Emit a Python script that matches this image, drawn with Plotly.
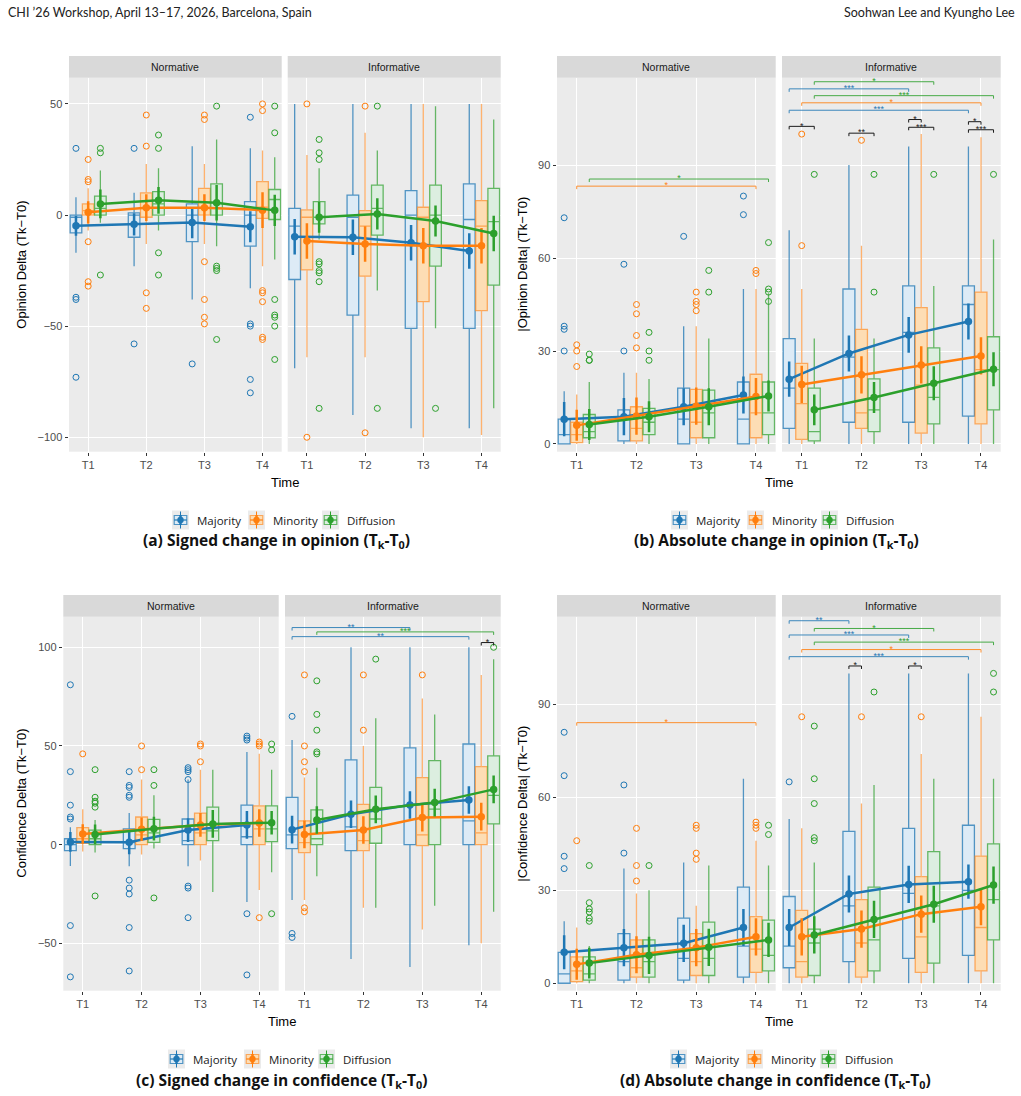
import plotly.graph_objects as go

W, H = 1021, 1096
TIMES = ["T1", "T2", "T3", "T4"]
GROUPS = ["Majority", "Minority", "Diffusion"]
FACETS = ["Normative", "Informative"]

# ---------------- (a) Signed change in opinion ----------------
A_N_Q1 = [[-8, -10, -12, -14], [0, -1, 0, -1.5], [0, 0, 0, -2]]
A_N_MED = [[-1, 0, 0, 0], [2, 3, 3, 3.5], [3, 5, 3, 7]]
A_N_Q3 = [[0, 1, 5, 6], [5, 10, 12, 15], [8.5, 10.5, 14, 11.5]]
A_N_LO = [[-17, -23, -38, -33], [-7, -13, -13, -23], [-3.5, -7, -14, -20]]
A_N_HI = [[8, 10, 31, 30], [12, 23, 23, 29], [20, 21, 34, 26]]
A_N_MEAN = [[-4.8, -4.2, -3.4, -5.3], [1.2, 3.3, 3.3, 2.2], [5, 6.6, 5.5, 2.1]]
A_N_CI = [[4.5, 5, 7, 7], [5, 6, 6, 8], [6.5, 6, 8, 7]]
A_N_OUT = [
    [[30, -37, -38, -73], [30, -58], [-67], [44, -49, -50, -74, -80]],
    [[25, 16, 15, -12, -30, -32], [45, 31, -35, -42], [45, 43, -21, -38, -46, -49],
     [50, 47, -34, -35, -39, -55, -56]],
    [[30, 28, -27], [36, 30, -17, -27], [49, -23, -24, -25, -56], [49, 37, -38, -45, -46, -50, -65]],
]
A_I_Q1 = [[-29, -45, -51, -51], [-24.7, -27.5, -39, -43], [-4, -9, -23, -31.5]]
A_I_MED = [[-5, -1, 0, -2], [-1, -5, -1, -5], [-1, 3, 0, -3]]
A_I_Q3 = [[3, 9, 11, 14], [2.3, 2, 3.5, 6.5], [6, 13.5, 13.5, 12]]
A_I_LO = [[-69, -90, -96, -96], [-64, -64, -100, -99], [-11, -34, -51, -87]]
A_I_HI = [[50, 50, 50, 50], [27, 37, 50, 50], [21, 29, 49, 43]]
A_I_MEAN = [[-9.8, -10, -12.5, -16.2], [-11.7, -13, -13.8, -13.8], [-1, 0.5, -2.7, -8.3]]
A_I_CI = [[8, 8, 8, 8], [8, 8, 8, 8], [7, 7, 7, 8]]
A_I_OUT = [
    [[], [], [], []],
    [[50, -100], [49, -98], [], []],
    [[34, 28, 25, -21, -22, -25, -26, -30, -87], [49, -87], [-87], []],
]
A_N_BR = []
A_I_BR = []

# ---------------- (b) Absolute change in opinion ----------------
B_N_Q1 = [[0, 1, 0, 0], [0.4, 1, 2, 2], [2, 3, 2, 3]]
B_N_MED = [[3, 8, 8, 8], [3, 5, 7, 10], [4, 7, 10, 10]]
B_N_Q3 = [[8, 11, 18, 20], [7, 12, 17.6, 22.5], [9.5, 11.5, 17.4, 20]]
B_N_LO = [[0, 0, 0, 0], [0, 0, 0, 0], [0, 0, 0, 0]]
B_N_HI = [[17, 23, 38, 50], [16, 23, 38, 50], [20, 21, 34, 48.6]]
B_N_MEAN = [[8, 8.8, 12, 15.8], [6, 9, 12.2, 15.3], [6.3, 8.8, 12, 15.5]]
B_N_CI = [[5.5, 6, 6, 6], [5, 6, 6, 6], [5, 5, 6, 5]]
B_N_OUT = [
    [[73, 38, 37, 30], [58, 30], [67], [80, 74]],
    [[32, 30, 25], [45, 42, 35, 31], [49, 46, 45, 43], [56, 55]],
    [[29, 27, 27], [36, 30, 27], [56, 49], [65, 50, 49, 46]],
]
B_I_Q1 = [[5, 7, 7, 9], [1.5, 5, 3.5, 6.5], [1, 4, 6.5, 11]]
B_I_MED = [[18, 28, 36, 45], [13, 10, 19, 24], [4, 11, 15, 24]]
B_I_Q3 = [[34, 50, 51, 51], [26, 37, 44, 49], [18, 21, 31, 34.6]]
B_I_LO = [[0, 0, 0, 0], [0, 0, 0, 0], [0, 0, 0, 0]]
B_I_HI = [[69, 90, 96, 96], [50, 64, 100, 99], [34, 34, 51, 66]]
B_I_MEAN = [[20.9, 29.2, 35.2, 39.5], [19.2, 22.3, 25.5, 28.4], [11, 15, 19.6, 24.1]]
B_I_CI = [[5.7, 5.8, 5.8, 5.8], [6, 6, 6, 6], [5, 5, 5.5, 5.5]]
B_I_OUT = [
    [[], [], [], []],
    [[100, 64], [98], [], []],
    [[87], [87, 49], [87], [87]],
]
B_N_BR = [
    ("Minority", 1, "Minority", 4, 83.2, "*", "Minority"),
    ("Diffusion", 1, "Diffusion", 4, 85.5, "*", "Diffusion"),
]
B_I_BR = [
    ("Diffusion", 1, "Diffusion", 3, 116.9, "*", "Diffusion"),
    ("Majority", 1, "Majority", 3, 114.6, "***", "Majority"),
    ("Diffusion", 1, "Diffusion", 4, 112.4, "***", "Diffusion"),
    ("Minority", 1, "Minority", 4, 110.1, "*", "Minority"),
    ("Majority", 1, "Majority", 4, 107.7, "***", "Majority"),
    ("Majority", 1, "Diffusion", 1, 102.5, "*", "black"),
    ("Majority", 2, "Diffusion", 2, 100.3, "**", "black"),
    ("Majority", 3, "Minority", 3, 104.7, "*", "black"),
    ("Majority", 3, "Diffusion", 3, 102.2, "***", "black"),
    ("Majority", 4, "Minority", 4, 104.0, "*", "black"),
    ("Majority", 4, "Diffusion", 4, 101.4, "***", "black"),
]

# ---------------- (c) Signed change in confidence ----------------
C_N_Q1 = [[-3, -2, 0, 0], [0.7, 0, 0, 0], [0, 1.2, 2, 1.5]]
C_N_MED = [[0, 1, 2, 4], [3, 5, 6, 8], [3, 6, 7, 8]]
C_N_Q3 = [[3, 8, 13, 20], [8.6, 14, 16, 19.6], [7.4, 12.8, 19, 19.6]]
C_N_LO = [[-10.8, -11, -11, -29], [-3.5, -5, -8, -23], [-4, -2, -24, -14]]
C_N_HI = [[8.8, 16, 33, 47], [18, 33, 38, 46], [12.5, 25, 38, 38]]
C_N_MEAN = [[1.4, 1.2, 7.4, 10], [5.4, 7.8, 10, 11], [5.2, 8.1, 10.5, 11.1]]
C_N_CI = [[5, 6, 6, 7], [5, 6, 6, 7], [5, 6, 7, 6]]
C_N_OUT = [
    [[81, 37, 20, 14, 13, -41, -67], [37, 30, 29, 25, 24, -18, -22, -25, -42, -64],
     [39, 38, 37, 33, -21, -22, -37], [55, 54, 53, -35, -66]],
    [[46], [50, 38], [51, 50, 42], [52, 51, 50, -37]],
    [[38, 24, 22, 21, 19, -26], [38, 30, -27], [], [51, 48, -35]],
]
C_I_Q1 = [[-2, -3, 0, 0], [-4, -3, -0.5, 0], [0, 0.7, 0, 10.5]]
C_I_MED = [[5, 9, 20, 12], [1, 2, 5, 6], [3, 13, 18, 25]]
C_I_Q3 = [[24, 43, 49, 51], [12, 20.4, 34, 39.5], [17.6, 29, 42.6, 45]]
C_I_LO = [[-28, -58, -62, -51], [-28, -32, -43, -50], [-16, -32, -31, -34]]
C_I_HI = [[53, 100, 100, 100], [34, 50, 74, 86], [39, 64, 66, 94]]
C_I_MEAN = [[7.6, 15.4, 20.1, 22.6], [5.2, 7.4, 13.7, 14.2], [12.5, 17.9, 21.3, 28]]
C_I_CI = [[7, 7, 7, 7], [7, 7, 7, 7], [7, 7, 7, 7]]
C_I_OUT = [
    [[65, -45, -47], [], [], []],
    [[86, 50, 42, 37, -32, -34], [86, 58], [86], []],
    [[83, 66, 58, 47, 46], [94], [], [100]],
]
C_N_BR = []
C_I_BR = [
    ("Majority", 1, "Majority", 3, 110.0, "**", "Majority"),
    ("Diffusion", 1, "Diffusion", 4, 107.8, "***", "Diffusion"),
    ("Majority", 1, "Majority", 4, 105.4, "**", "Majority"),
    ("Minority", 4, "Diffusion", 4, 102.4, "*", "black"),
]

# ---------------- (d) Absolute change in confidence ----------------
D_N_Q1 = [[0, 1, 1, 2], [0.5, 2, 2.5, 3.5], [1, 2, 2.5, 4]]
D_N_MED = [[3, 7, 8, 12], [4, 5, 7, 11], [3, 7, 8, 9]]
D_N_Q3 = [[10, 16, 21, 31], [8.5, 14, 16, 21.5], [8.5, 14, 19.7, 20.4]]
D_N_LO = [[0, 0, 0, 0], [0, 0, 0, 0], [0, 0, 0, 0]]
D_N_HI = [[20, 37, 39, 66], [18, 29, 25, 46], [12, 30, 38, 38]]
D_N_MEAN = [[10, 11.5, 12.9, 18], [6.1, 9.2, 11.5, 15], [6.5, 9, 11.6, 14]]
D_N_CI = [[5.5, 6, 6, 6], [5, 6, 6, 6], [5, 6, 6, 5.5]]
D_N_OUT = [
    [[81, 67, 41, 37], [64, 42], [], []],
    [[46], [50, 38, 33], [51, 50, 42, 40], [52, 51, 50]],
    [[38, 26, 24, 23, 21, 20], [38], [], [51, 48]],
]
D_I_Q1 = [[5, 7, 8, 9], [2, 2, 3.5, 4], [2.5, 4, 6.5, 14]]
D_I_MED = [[12, 25, 29, 30], [7, 13, 15, 18], [13, 14, 25, 27]]
D_I_Q3 = [[28, 49, 50, 51], [23.5, 27, 34.4, 41], [17.5, 31, 42.5, 45]]
D_I_LO = [[0, 0, 0, 0], [0, 0, 0, 0], [0, 0, 0, 0]]
D_I_HI = [[53, 100, 100, 100], [50, 58, 74, 86], [39, 64, 66, 66]]
D_I_MEAN = [[18, 28.8, 31.9, 32.8], [15, 17.5, 22.3, 24.7], [15.6, 20.6, 25.5, 31.7]]
D_I_CI = [[6, 6, 6, 5.5], [6, 6, 6, 6], [6, 6, 6, 6]]
D_I_OUT = [
    [[65], [], [], []],
    [[86], [86], [86], []],
    [[83, 66, 58, 47, 46], [94], [], [100, 94]],
]
D_N_BR = [("Minority", 1, "Minority", 4, 84.1, "*", "Minority")]
D_I_BR = [
    ("Majority", 1, "Majority", 2, 117.0, "**", "Majority"),
    ("Diffusion", 1, "Diffusion", 3, 114.5, "*", "Diffusion"),
    ("Majority", 1, "Majority", 3, 112.4, "***", "Majority"),
    ("Diffusion", 1, "Diffusion", 4, 110.1, "***", "Diffusion"),
    ("Minority", 1, "Minority", 4, 107.7, "*", "Minority"),
    ("Majority", 1, "Majority", 4, 105.4, "***", "Majority"),
    ("Majority", 2, "Minority", 2, 102.4, "*", "black"),
    ("Majority", 3, "Minority", 3, 102.4, "*", "black"),
]

HEADER_LEFT = "CHI ’26 Workshop, April 13–17, 2026, Barcelona, Spain"
HEADER_RIGHT = "Soohwan Lee and Kyungho Lee"

# ---------------- styling ----------------
COL = {"Majority": "#1F77B4", "Minority": "#FF7F0E", "Diffusion": "#2CA02C", "black": "#1A1A1A"}
FILL = {"Majority": "#DDEBF6", "Minority": "#FDDDB4", "Diffusion": "#DCEEE0"}
LINE = {"Majority": "rgba(31,119,180,0.75)", "Minority": "rgba(255,127,14,0.6)",
        "Diffusion": "rgba(44,160,44,0.7)"}
OFFS = [-0.21, 0.0, 0.21]
BOXW = 0.2
FONT = "Liberation Sans, Arial, sans-serif"


def fx(px):
    return px / W


def fy(py):
    return 1 - py / H


PANELS = [
    dict(data=[
        (A_N_Q1, A_N_MED, A_N_Q3, A_N_LO, A_N_HI, A_N_MEAN, A_N_CI, A_N_OUT, A_N_BR),
        (A_I_Q1, A_I_MED, A_I_Q3, A_I_LO, A_I_HI, A_I_MEAN, A_I_CI, A_I_OUT, A_I_BR)],
         xd=[(69, 281.7), (287.7, 500.7)], yd=(77.7, 451.7), strip=(56, 77.7),
         yr=[-106.5, 61.8], tv=[-100, -50, 0, 50],
         ytitle="Opinion Delta (Tk−T0)", ytx=22,
         cap="(a) Signed change in opinion (T<sub>k</sub>-T<sub>0</sub>)", capx=276.5, capy=540,
         legx=172, legy=520, timey=482),
    dict(data=[
        (B_N_Q1, B_N_MED, B_N_Q3, B_N_LO, B_N_HI, B_N_MEAN, B_N_CI, B_N_OUT, B_N_BR),
        (B_I_Q1, B_I_MED, B_I_Q3, B_I_LO, B_I_HI, B_I_MEAN, B_I_CI, B_I_OUT, B_I_BR)],
         xd=[(557, 775.7), (782, 1000.7)], yd=(77.7, 451.7), strip=(56, 77.7),
         yr=[-2.5, 118.2], tv=[0, 30, 60, 90],
         ytitle="|Opinion Delta| (Tk−T0)", ytx=523,
         cap="(b) Absolute change in opinion (T<sub>k</sub>-T<sub>0</sub>)", capx=776, capy=540,
         legx=671, legy=520, timey=482),
    dict(data=[
        (C_N_Q1, C_N_MED, C_N_Q3, C_N_LO, C_N_HI, C_N_MEAN, C_N_CI, C_N_OUT, C_N_BR),
        (C_I_Q1, C_I_MED, C_I_Q3, C_I_LO, C_I_HI, C_I_MEAN, C_I_CI, C_I_OUT, C_I_BR)],
         xd=[(63.3, 278.7), (285, 500.7)], yd=(616.7, 990.7), strip=(595, 616.7),
         yr=[-74, 115.5], tv=[-50, 0, 50, 100],
         ytitle="Confidence Delta (Tk−T0)", ytx=22,
         cap="(c) Signed change in confidence (T<sub>k</sub>-T<sub>0</sub>)", capx=281.5, capy=1080,
         legx=168, legy=1059, timey=1021),
    dict(data=[
        (D_N_Q1, D_N_MED, D_N_Q3, D_N_LO, D_N_HI, D_N_MEAN, D_N_CI, D_N_OUT, D_N_BR),
        (D_I_Q1, D_I_MED, D_I_Q3, D_I_LO, D_I_HI, D_I_MEAN, D_I_CI, D_I_OUT, D_I_BR)],
         xd=[(557, 775.7), (782, 1000.7)], yd=(616.7, 990.7), strip=(595, 616.7),
         yr=[-2.4, 118.3], tv=[0, 30, 60, 90],
         ytitle="|Confidence Delta| (Tk−T0)", ytx=523,
         cap="(d) Absolute change in confidence (T<sub>k</sub>-T<sub>0</sub>)", capx=775.5, capy=1080,
         legx=670, legy=1059, timey=1021),
]

fig = go.Figure()
layout = dict(width=W, height=H, margin=dict(l=0, r=0, t=0, b=0), autosize=False,
              paper_bgcolor="white", plot_bgcolor="#EBEBEB", showlegend=False,
              font=dict(family=FONT, color="#1A1A1A"))
shapes, annots = [], []
XPOS = [1, 2, 3, 4]

for p, P in enumerate(PANELS):
    px_per_unit = (P["yd"][1] - P["yd"][0]) / (P["yr"][1] - P["yr"][0])
    tip = 3.0 / px_per_unit
    for f in range(2):
        n = p * 2 + f + 1
        xa, ya = f"x{n}", f"y{n}"
        q1, med, q3, lo, hi, mean, ci, out, br = P["data"][f]
        x0, x1 = P["xd"][f]
        layout[f"xaxis{n}"] = dict(
            domain=[fx(x0), fx(x1)], anchor=ya, range=[0.67, 4.33],
            tickmode="array", tickvals=XPOS, ticktext=TIMES,
            showgrid=True, gridcolor="white", gridwidth=1.2, zeroline=False,
            ticks="outside", ticklen=3.5, tickcolor="#333333", tickwidth=1,
            tickfont=dict(size=11, color="#4D4D4D", family=FONT), showline=False,
            fixedrange=True)
        yax = dict(
            domain=[fy(P["yd"][1]), fy(P["yd"][0])], anchor=xa, range=P["yr"],
            tickmode="array", tickvals=P["tv"],
            showgrid=True, gridcolor="white", gridwidth=1.2, zeroline=False,
            showline=False, fixedrange=True,
            tickfont=dict(size=11, color="#4D4D4D", family=FONT))
        if f == 0:
            yax.update(ticks="outside", ticklen=3.5, tickcolor="#333333", tickwidth=1)
        else:
            yax.update(showticklabels=False, ticks="", matches=f"y{p * 2 + 1}")
        layout[f"yaxis{n}"] = yax

        # strip
        shapes.append(dict(type="rect", xref="paper", yref="paper",
                           x0=fx(x0), x1=fx(x1), y0=fy(P["strip"][1]), y1=fy(P["strip"][0]),
                           fillcolor="#D9D9D9", line=dict(width=0), layer="below"))
        annots.append(dict(text=FACETS[f], xref="paper", yref="paper",
                           x=fx((x0 + x1) / 2), y=fy((P["strip"][0] + P["strip"][1]) / 2),
                           showarrow=False, xanchor="center", yanchor="middle",
                           font=dict(size=10.5, color="#1A1A1A", family=FONT)))

        # boxes
        for g, grp in enumerate(GROUPS):
            xs = [t + OFFS[g] for t in XPOS]
            fig.add_trace(go.Box(
                x=xs, q1=q1[g], median=med[g], q3=q3[g],
                lowerfence=lo[g], upperfence=hi[g], width=BOXW,
                fillcolor=FILL[grp], line=dict(color=LINE[grp], width=1.3),
                whiskerwidth=0, boxpoints=False, name=grp, xaxis=xa, yaxis=ya,
                hoverinfo="skip", showlegend=False))
        # outliers
        for g, grp in enumerate(GROUPS):
            ox, oy = [], []
            for t in range(4):
                for v in out[g][t]:
                    ox.append(XPOS[t] + OFFS[g])
                    oy.append(v)
            fig.add_trace(go.Scatter(
                x=ox, y=oy, mode="markers", xaxis=xa, yaxis=ya, showlegend=False,
                marker=dict(symbol="circle-open", size=6, color=COL[grp], line=dict(width=1)),
                hoverinfo="skip"))
        # means with error bars
        for g, grp in enumerate(GROUPS):
            xs = [t + OFFS[g] for t in XPOS]
            fig.add_trace(go.Scatter(
                x=xs, y=mean[g], mode="lines+markers", xaxis=xa, yaxis=ya, name=grp,
                showlegend=False, line=dict(color=COL[grp], width=2.5),
                marker=dict(size=7.5, color=COL[grp]),
                error_y=dict(type="data", array=ci[g], visible=True, color=COL[grp],
                             thickness=2.5, width=0),
                hoverinfo="skip"))
        # significance brackets
        for (ga, ta, gb, tb, yv, lab, ck) in br:
            xa_ = ta + OFFS[GROUPS.index(ga)]
            xb_ = tb + OFFS[GROUPS.index(gb)]
            c = COL[ck]
            fig.add_trace(go.Scatter(
                x=[xa_, xa_, xb_, xb_], y=[yv - tip, yv, yv, yv - tip], mode="lines",
                xaxis=xa, yaxis=ya, showlegend=False, hoverinfo="skip",
                line=dict(color=c, width=1), opacity=0.85 if ck != "black" else 1))
            fig.add_trace(go.Scatter(
                x=[(xa_ + xb_) / 2], y=[yv], mode="text", text=[lab],
                textposition="middle center", xaxis=xa, yaxis=ya, showlegend=False,
                textfont=dict(size=9, color=c, family=FONT), hoverinfo="skip"))

    # axis titles
    xl, xr = P["xd"][0][0], P["xd"][1][1]
    annots.append(dict(text="Time", xref="paper", yref="paper", x=fx((xl + xr) / 2),
                       y=fy(P["timey"]), showarrow=False, xanchor="center", yanchor="middle",
                       font=dict(size=13, color="#000000", family=FONT)))
    annots.append(dict(text=P["ytitle"], xref="paper", yref="paper", x=fx(P["ytx"]),
                       y=fy((P["yd"][0] + P["yd"][1]) / 2), showarrow=False, textangle=-90,
                       xanchor="center", yanchor="middle",
                       font=dict(size=13, color="#000000", family=FONT)))
    # caption
    annots.append(dict(text="<b>" + P["cap"] + "</b>", xref="paper", yref="paper",
                       x=fx(P["capx"]), y=fy(P["capy"]), showarrow=False,
                       xanchor="center", yanchor="middle",
                       font=dict(size=15.5, color="#111111", family="Open Sans, Noto Sans, sans-serif")))
    # legend (manual keys)
    L0, LY = P["legx"], P["legy"]
    for g, grp in enumerate(GROUPS):
        s = L0 + [0, 76, 150][g]
        shapes.append(dict(type="rect", xref="paper", yref="paper", x0=fx(s), x1=fx(s + 17),
                           y0=fy(LY + 9.5), y1=fy(LY - 9.5), fillcolor="#EBEBEB",
                           line=dict(width=0)))
        shapes.append(dict(type="line", xref="paper", yref="paper", x0=fx(s + 8.5), x1=fx(s + 8.5),
                           y0=fy(LY + 8.5), y1=fy(LY - 8.5), line=dict(color=COL[grp], width=1)))
        shapes.append(dict(type="rect", xref="paper", yref="paper", x0=fx(s + 2.2), x1=fx(s + 14.8),
                           y0=fy(LY + 4.5), y1=fy(LY - 4.5), fillcolor=FILL[grp],
                           line=dict(color=LINE[grp], width=1.2)))
        shapes.append(dict(type="line", xref="paper", yref="paper", x0=fx(s + 2.2), x1=fx(s + 14.8),
                           y0=fy(LY), y1=fy(LY), line=dict(color=COL[grp], width=1.2)))
        shapes.append(dict(type="line", xref="paper", yref="paper", x0=fx(s + 8.5), x1=fx(s + 8.5),
                           y0=fy(LY + 5), y1=fy(LY - 5), line=dict(color=COL[grp], width=2.5)))
        shapes.append(dict(type="circle", xref="paper", yref="paper", x0=fx(s + 5.3), x1=fx(s + 11.7),
                           y0=fy(LY + 3.2), y1=fy(LY - 3.2), fillcolor=COL[grp],
                           line=dict(color=COL[grp], width=0)))
        annots.append(dict(text=grp, xref="paper", yref="paper", x=fx(s + 23), y=fy(LY),
                           showarrow=False, xanchor="left", yanchor="middle",
                           font=dict(size=11.5, color="#1A1A1A", family="Open Sans, sans-serif")))

# page header
annots.append(dict(text=HEADER_LEFT, xref="paper", yref="paper", x=fx(6), y=fy(12),
                   showarrow=False, xanchor="left", yanchor="middle",
                   font=dict(size=12.5, color="#222222", family="Lato, sans-serif")))
annots.append(dict(text=HEADER_RIGHT, xref="paper", yref="paper", x=fx(1017), y=fy(12),
                   showarrow=False, xanchor="right", yanchor="middle",
                   font=dict(size=12.5, color="#222222", family="Lato, sans-serif")))

layout["shapes"] = shapes
layout["annotations"] = annots
fig.update_layout(**layout)
fig.write_html("out.html")
